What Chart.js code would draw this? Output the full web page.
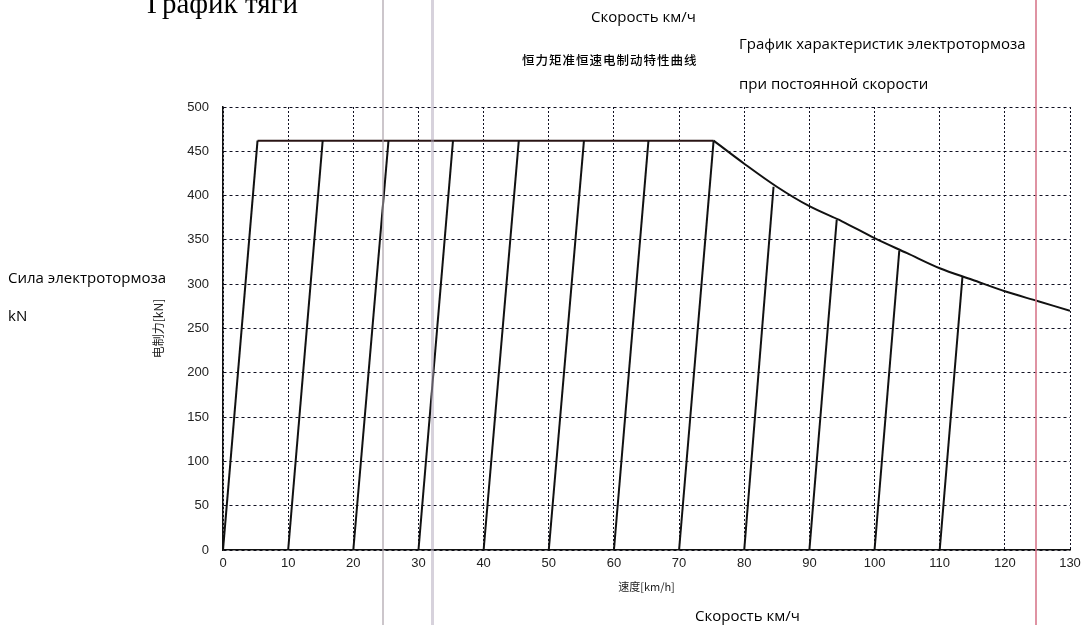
<!DOCTYPE html>
<html>
<head>
<meta charset="utf-8">
<script src="https://cdn.jsdelivr.net/npm/chart.js@4/dist/chart.umd.min.js"></script>
<style>
  html, body { margin: 0; padding: 0; background: #fff; }
  #wrap { position: relative; width: 1082px; height: 625px; overflow: hidden; }
  #chart { position: absolute; left: 0; top: 0; }
  .note { position: absolute; white-space: nowrap; font-family: "Open Sans", sans-serif; font-size: 15px; font-weight: 500; color: #000; transform: translateY(-50%); }
  .scan { position: absolute; top: 0; height: 625px; pointer-events: none; }
</style>
</head>
<body>
<div id="wrap">
  <canvas id="chart" width="1082" height="625"></canvas>
  <div class="note" style="left:147px; top:-11px; transform:none; font-family:'Liberation Serif', serif; font-size:29px; font-weight:400; line-height:29px;">График тяги</div>
  <div class="note" style="left:591px; top:16px;">Скорость км/ч</div>
  <div class="note" style="left:522px; top:59px; font-family:'Noto Sans CJK SC', sans-serif; font-size:12.5px; letter-spacing:1px;">恒力矩准恒速电制动特性曲线</div>
  <div class="note" style="left:739px; top:43px;">График характеристик электротормоза</div>
  <div class="note" style="left:739px; top:83px;">при постоянной скорости</div>
  <div class="note" style="left:8px; top:277px;">Сила электротормоза</div>
  <div class="note" style="left:8px; top:315px;">kN</div>
  <div class="note" style="left:695px; top:615px;">Скорость км/ч</div>
  <div class="scan" style="left:382px; width:2px; background:rgba(170,160,168,0.6);"></div>
  <div class="scan" style="left:431px; width:3px; background:rgba(175,165,185,0.5);"></div>
  <div class="scan" style="left:1035px; width:2px; background:rgba(215,120,140,0.8);"></div>
</div>
<script>
// braking lines: each one starts on the speed axis and climbs to the limit curve
const rampStart = [0, 10, 20, 30, 40, 50, 60, 70, 80, 90, 100, 110];
const rampTopSpeed = [5.3, 15.3, 25.4, 35.3, 45.4, 55.4, 65.3, 75.3, 84.5, 94.2, 103.8, 113.5];
const rampTopForce = [462, 462, 462, 462, 462, 462, 462, 462, 410, 373, 338, 309];

// limit curve (constant force, then falling)
const flatSpeed = [5.3, 75.3];
const flatForce = [462, 462];
const fallSpeed = [75.3, 80, 85, 90, 95, 100, 105, 110, 115, 120, 125, 130];
const fallForce = [462, 436, 410, 388, 371, 352, 335, 318, 305, 292, 281, 270];

const xTicks = [0, 10, 20, 30, 40, 50, 60, 70, 80, 90, 100, 110, 120, 130];
const yTicks = [0, 50, 100, 150, 200, 250, 300, 350, 400, 450, 500];

const lineColor = '#111';

const datasets = rampStart.map((x0, i) => ({
    data: [{ x: x0, y: 0 }, { x: rampTopSpeed[i], y: rampTopForce[i] }],
    borderColor: lineColor,
    borderWidth: 2,
    pointRadius: 0,
}));

datasets.push({
    data: flatSpeed.map((x, i) => ({ x: x, y: flatForce[i] })),
    borderColor: '#2a1414',
    borderWidth: 2,
    pointRadius: 0,
});
datasets.push({
    data: fallSpeed.map((x, i) => ({ x: x, y: fallForce[i] })),
    borderColor: lineColor,
    borderWidth: 2,
    pointRadius: 0,
    cubicInterpolationMode: 'monotone',
});

const tickFont = { family: "'Liberation Sans', Arial, sans-serif", size: 13 };

new Chart(document.getElementById('chart').getContext('2d'), {
    type: 'line',
    data: { datasets: datasets },
    options: {
        animation: false,
        responsive: false,
        layout: { padding: { left: 148, right: 0, top: 107, bottom: 25 } },
        plugins: { legend: { display: false }, tooltip: { enabled: false } },
        scales: {
            x: {
                type: 'linear',
                min: 0,
                max: 130,
                afterBuildTicks: s => { s.ticks = xTicks.map(v => ({ value: v })); },
                afterFit: s => { s.height = 50; s.paddingRight = 12; },
                grid: { color: '#111122', lineWidth: 1, drawTicks: false },
                border: { display: true, color: '#111', width: 1.5, dash: [2, 2] },
                ticks: { color: '#222', font: tickFont, padding: 6, maxRotation: 0 },
                title: {
                    display: true,
                    text: '速度[km/h]',
                    color: '#222',
                    font: { family: "'Noto Sans CJK SC', sans-serif", size: 11 },
                    padding: { top: 0, bottom: 7 },
                },
            },
            y: {
                min: 0,
                max: 500,
                afterBuildTicks: s => { s.ticks = yTicks.map(v => ({ value: v })); },
                afterFit: s => { s.width = 75; },
                grid: { color: '#111122', lineWidth: 1, drawTicks: false },
                border: { display: true, color: '#111', width: 1.5, dash: [3, 3] },
                ticks: { color: '#222', font: tickFont, padding: 14 },
                title: {
                    display: true,
                    text: '电制力[kN]',
                    color: '#222',
                    font: { family: "'Noto Sans CJK SC', sans-serif", size: 12 },
                    padding: { top: 3, bottom: 0 },
                },
            },
        },
    },
});
</script>
</body>
</html>
